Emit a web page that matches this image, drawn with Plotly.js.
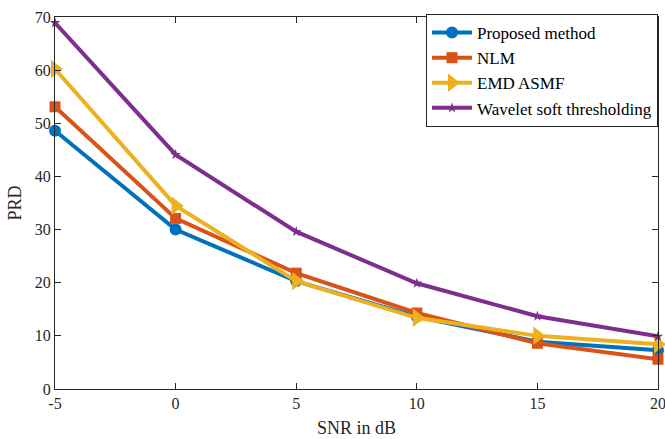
<!DOCTYPE html>
<html><head><meta charset="utf-8">
<script src="https://cdn.plot.ly/plotly-3.0.1.min.js"></script>
<style>html,body{margin:0;padding:0;background:#fff}#chart{width:665px;height:439px}</style>
</head><body><div id="chart"></div>
<script>
const snr = [-5, 0, 5, 10, 15, 20];
const proposed = [48.6, 30.0, 20.3, 13.6, 8.9, 7.3];
const nlm = [53.1, 32.1, 21.8, 14.3, 8.6, 5.6];
const emdAsmf = [60.2, 34.5, 20.3, 13.4, 10.0, 8.4];
const wavelet = [68.9, 44.1, 29.6, 19.9, 13.7, 9.9];
const names = ["Proposed method", "NLM", "EMD ASMF", "Wavelet soft thresholding"];
const xTicks = [-5, 0, 5, 10, 15, 20];
const xTickText = ["-5", "0", "5", "10", "15", "20"];
const yTicks = [0, 10, 20, 30, 40, 50, 60, 70];

const colors = ["#0072BD", "#D95319", "#EDB120", "#7E2F8E"];
const symbols = ["circle", "square", "triangle-right", "star"];
const sizes = [12, 11, 16, 8];
const series = [proposed, nlm, emdAsmf, wavelet];
const data = series.map((ys, i) => ({
  x: snr, y: ys, name: names[i], type: "scatter", mode: "lines+markers",
  line: {color: colors[i], width: 4},
  marker: {symbol: symbols[i], size: sizes[i], color: colors[i]},
  cliponaxis: false
}));
const fam = "Liberation Serif, Times New Roman, serif";
const axisCommon = {
  showgrid: false, zeroline: false, showline: true, mirror: "ticks",
  linecolor: "#262626", linewidth: 1, ticks: "inside", ticklen: 6,
  tickcolor: "#262626", tickfont: {family: fam, size: 16, color: "#262626"},
  ticklabeloverflow: "allow"
};
const layout = {
  width: 665, height: 439,
  margin: {l: 55, r: 7, t: 17, b: 50},
  paper_bgcolor: "#fff", plot_bgcolor: "#fff",
  font: {family: fam, color: "#262626"},
  xaxis: Object.assign({}, axisCommon, {range: [-5, 20], tickvals: xTicks, ticktext: xTickText,
    title: {text: "SNR in dB", font: {size: 18}, standoff: 10}}),
  yaxis: Object.assign({}, axisCommon, {range: [0, 70], tickvals: yTicks,
    title: {text: "PRD", font: {size: 18}, standoff: 8}}),
  showlegend: true,
  legend: {x: 1, xanchor: "right", y: 1.008, yanchor: "top",
    bgcolor: "#fff", bordercolor: "#262626", borderwidth: 1,
    font: {family: fam, size: 17, color: "#000"},
    tracegroupgap: 0, itemwidth: 40}
};
Plotly.newPlot("chart", data, layout, {displayModeBar: false, staticPlot: true});
</script></body></html>
